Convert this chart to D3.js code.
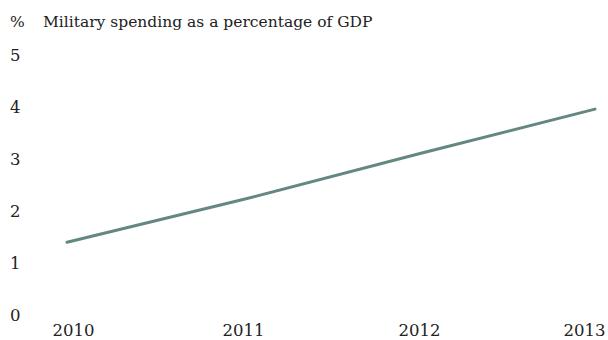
<!DOCTYPE html>
<html><head><meta charset="utf-8">
<script src="https://cdn.jsdelivr.net/npm/d3@7"></script>
<style>
body{margin:0;background:#fff;}
text{font-family:"DejaVu Serif",serif;fill:#222;}
</style></head>
<body><svg id="c" width="608" height="340"></svg>
<script>
const years = ["2010","2011","2012","2013"];
const values = [1.4, 2.22, 3.1, 3.96];
const yTicks = [0,1,2,3,4,5];
const title = "Military spending as a percentage of GDP";
const unit = "%";

const svg = d3.select("#c");
const x = d3.scalePoint().domain(years).range([67, 595]);
const y = d3.scaleLinear().domain([0,5]).range([315, 55]);

svg.append("text").attr("x",10).attr("y",27).attr("font-size",15.5).text(unit);
svg.append("text").attr("x",43).attr("y",27).attr("font-size",15.5).text(title);

const ya = svg.append("g").attr("transform","translate(10,0)")
  .call(d3.axisRight(y).tickValues(yTicks).tickSize(0).tickPadding(0).tickFormat(d3.format("d")));
ya.select(".domain").remove();
ya.selectAll("text").attr("font-size",16.5).attr("font-family","DejaVu Serif").attr("fill","#222");

const xa = svg.append("g").attr("transform","translate(0,324)")
  .call(d3.axisBottom(x).tickSize(0).tickPadding(0));
xa.select(".domain").remove();
xa.selectAll("text").attr("font-size",16.5).attr("font-family","DejaVu Serif").attr("fill","#222")
  .attr("dx",(d,i)=> i===0 ? 6 : (i===years.length-1 ? -11 : 0));

const line = d3.line().x((d,i)=>x(years[i])).y(d=>y(d));
svg.append("path").datum(values).attr("d",line).attr("fill","none")
  .attr("stroke","#648782").attr("stroke-width",3).attr("stroke-linecap","round");
</script></body></html>
